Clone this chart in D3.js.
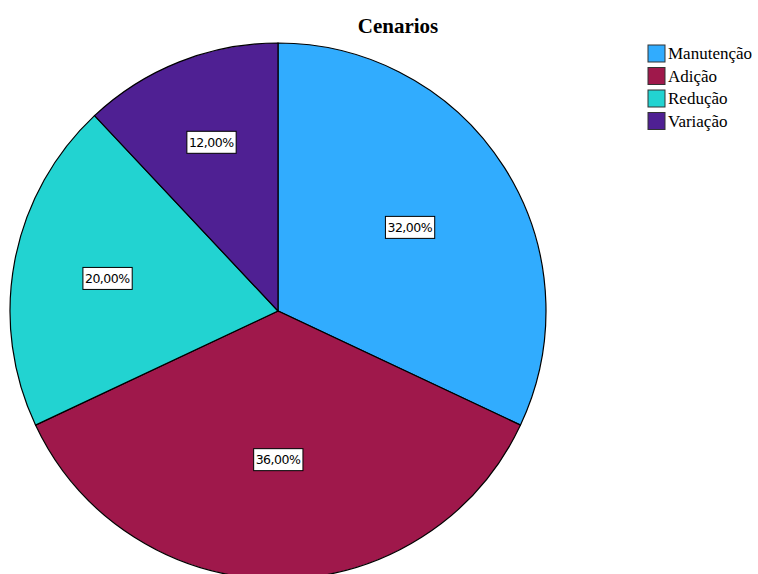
<!DOCTYPE html>
<html>
<head>
<meta charset="utf-8">
<script src="https://cdn.jsdelivr.net/npm/d3@7"></script>
<style>
  body { margin: 0; background: #fff; }
</style>
</head>
<body>
<div id="chart"></div>
<script>
const categories = ["Manutenção", "Adição", "Redução", "Variação"];
const values = [32, 36, 20, 12];
const colors = ["#31acfe", "#9f184b", "#22d3d1", "#4f2093"];

const width = 758, height = 574;
const cx = 278, cy = 311, radius = 268;

let svg = d3.select("#chart")
    .append("svg")
    .attr("width", width)
    .attr("height", height);

const data = categories.map((c, i) => ({name: c, value: values[i], color: colors[i]}));

const pie = d3.pie()
    .value(d => d.value)
    .sort(null);

const arc = d3.arc()
    .innerRadius(0)
    .outerRadius(radius);

let g = svg.append("g")
    .attr("transform", `translate(${cx},${cy})`);

const arcs = pie(data);

g.selectAll("path")
    .data(arcs)
    .join("path")
    .attr("d", arc)
    .attr("fill", d => d.data.color)
    .attr("stroke", "#000")
    .attr("stroke-width", 1.2);

// labels near sector centroid
const fmt = v => d3.format(".2f")(v).replace(".", ",") + "%";

let lab = g.selectAll(".lab")
    .data(arcs)
    .join("g")
    .attr("class", "lab")
    .attr("transform", d => {
        const th = d.endAngle - d.startAngle;
        const r = 4 * radius * Math.sin(th / 2) / (3 * th) * 1.04;
        const a = (d.startAngle + d.endAngle) / 2;
        return `translate(${r * Math.sin(a)},${-r * Math.cos(a)})`;
    });

lab.append("text")
    .text(d => fmt(d.data.value))
    .attr("text-anchor", "middle")
    .attr("dy", "0.36em")
    .style("font-family", "'DejaVu Sans', sans-serif")
    .style("font-size", "12.5px")
    .style("letter-spacing", "-0.5px")
    .attr("fill", "#000");

lab.each(function() {
    const t = d3.select(this).select("text");
    const b = t.node().getBBox();
    d3.select(this).insert("rect", "text")
        .attr("x", b.x - 2)
        .attr("y", -11)
        .attr("width", b.width + 4)
        .attr("height", 22)
        .attr("fill", "#fff")
        .attr("stroke", "#000")
        .attr("stroke-width", 1);
});

// title
svg.append("text")
    .attr("x", 398)
    .attr("y", 33)
    .attr("text-anchor", "middle")
    .style("font-family", "'Liberation Serif', serif")
    .style("font-weight", "bold")
    .style("font-size", "21px")
    .text("Cenarios");

// legend
let legend = svg.append("g")
    .attr("transform", "translate(648,45)");

let item = legend.selectAll("g")
    .data(data)
    .join("g")
    .attr("transform", (d, i) => `translate(0,${i * 22.5})`);

item.append("rect")
    .attr("width", 17)
    .attr("height", 17)
    .attr("fill", d => d.color)
    .attr("stroke", "#333")
    .attr("stroke-width", 1);

item.append("text")
    .attr("x", 20)
    .attr("y", 14)
    .style("font-family", "'Liberation Serif', serif")
    .style("font-size", "17px")
    .text(d => d.name);
</script>
</body>
</html>
